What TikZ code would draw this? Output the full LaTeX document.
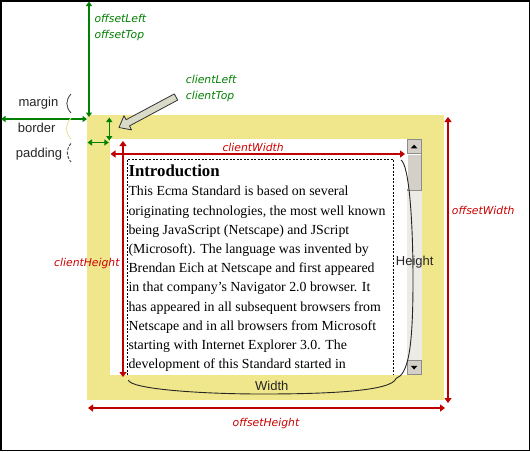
\documentclass[tikz,border=0pt]{standalone}
\usepackage{fontspec}
\setmainfont{Liberation Serif}
\newfontfamily\labfont{Liberation Sans}
\newfontfamily\propfont{DejaVu Sans}
\usetikzlibrary{arrows.meta}
\definecolor{khakiY}{RGB}{240,230,140}
\definecolor{dimred}{RGB}{192,0,0}
\definecolor{txtred}{RGB}{204,0,0}
\definecolor{dimgreen}{RGB}{0,128,0}
\definecolor{sbgray}{RGB}{212,208,200}
\definecolor{sbtrack}{RGB}{236,235,230}
\definecolor{ptrfill}{RGB}{218,218,200}
\definecolor{paleyel}{RGB}{236,226,160}
\begin{document}
\begin{tikzpicture}[x=1pt,y=-1pt,
  redarr/.style={draw=dimred, line width=1.4pt, {Triangle[length=5pt,width=7pt]}-{Triangle[length=5pt,width=7pt]}},
  grnarr/.style={draw=dimgreen, line width=1.2pt, {Triangle[length=4.5pt,width=6pt]}-{Triangle[length=4.5pt,width=6pt]}},
  redlab/.style={font=\propfont\itshape\fontsize{10.8}{12}\selectfont, text=txtred, inner sep=0pt, anchor=base west},
  grnlab/.style={font=\propfont\itshape\fontsize{10.8}{12}\selectfont, text=dimgreen, inner sep=0pt, anchor=base west},
  blklab/.style={font=\labfont\fontsize{13}{15}\selectfont, text=black!85, inner sep=0pt, anchor=base west},
  body/.style={font=\fontsize{13.85}{19}\selectfont, inner sep=0pt, anchor=base west},
  sbbtn/.style={fill=sbgray, draw=black!45, line width=0.6pt},
  brace/.style={draw=black!85, line width=0.9pt}]
\useasboundingbox (0,0) rectangle (530,451);
\fill[white] (0,0) rectangle (530,451);
% border box
\fill[khakiY] (87,115) rectangle (444,400);
\fill[white] (110,139) rectangle (406.5,375);
% scrollbar
\fill[sbtrack] (406.5,139) rectangle (421.7,375);
\draw[sbbtn] (406.8,139.3) rectangle (421.4,153.3);
\fill[black] (410.8,148.3) -- (417.4,148.3) -- (414.1,144.6) -- cycle;
\draw[sbbtn] (406.8,153.8) rectangle (421.4,190);
\draw[white, line width=0.6pt] (407.6,189.2) -- (407.6,154.6) -- (420.6,154.6);
\draw[sbbtn] (406.8,360.5) rectangle (421.4,374.7);
\fill[black] (410.8,365.8) -- (417.4,365.8) -- (414.1,369.5) -- cycle;
% content box
\draw[dash pattern=on 2pt off 1.5pt, line width=0.8pt] (127,375) -- (127,159) -- (393,159) -- (393,375);
\begin{scope}
\clip (110,139) rectangle (406.5,375);
\node[body, font=\bfseries\fontsize{16.8}{19}\selectfont] (intro) at (128.3,176) {Introduction};
\node[body] (l1) at (128.3,195.8) {This Ecma Standard is based on several};
\node[body] (l2) at (128.3,215) {originating technologies, the most well known};
\node[body] (l3) at (128.3,234.2) {being JavaScript (Netscape) and JScript};
\node[body] (l4) at (128.3,253.4) {(Microsoft). The language was invented by};
\node[body] (l5) at (128.3,272.6) {Brendan Eich at Netscape and first appeared};
\node[body] (l6) at (128.3,291.8) {in that company’s Navigator 2.0 browser. It};
\node[body] (l7) at (128.3,311) {has appeared in all subsequent browsers from};
\node[body] (l8) at (128.3,330.2) {Netscape and in all browsers from Microsoft};
\node[body] (l9) at (128.3,349.4) {starting with Internet Explorer 3.0. The};
\node[body] (l10) at (128.3,368.6) {development of this Standard started in};
\end{scope}
% frame
\draw[line width=1.5pt] (0.75,0.75) rectangle (529.25,450.25);
% coordinates for dimension arrows
\coordinate (cwL) at (110.5,154);
\coordinate (cwR) at (405,154);
\coordinate (chT) at (123,141);
\coordinate (chB) at (123,377);
\coordinate (owT) at (448,117);
\coordinate (owB) at (448,403);
\coordinate (ohL) at (88,408);
\coordinate (ohR) at (445,408);
\coordinate (otT) at (89,1.5);
\coordinate (otB) at (89,117);
\coordinate (olL) at (1,119);
\coordinate (olR) at (87,119);
\coordinate (ctT) at (109.3,117.5);
\coordinate (ctB) at (109.3,140.5);
\coordinate (clL) at (87.5,142.5);
\coordinate (clR) at (108.8,142.5);
\draw[redarr] (cwL) -- (cwR);
\draw[redarr] (chT) -- (chB);
\draw[redarr] (owT) -- (owB);
\draw[redarr] (ohL) -- (ohR);
\draw[grnarr] (otT) -- (otB);
\draw[grnarr] (olL) -- (olR);
\draw[grnarr] (ctT) -- (ctB);
\draw[grnarr] (clL) -- (clR);
% labels
\node[redlab] (lcw) at (222.3,151) {clientWidth};
\node[redlab] (lch) at (54,266) {clientHeight};
\node[redlab] (low) at (451.7,214.3) {offsetWidth};
\node[redlab] (loh) at (232.5,426.7) {offsetHeight};
\node[grnlab] (lol) at (94.3,22.6) {offsetLeft};
\node[grnlab] (lot) at (94.3,38.4) {offsetTop};
\node[grnlab] (lcl) at (185.7,83.5) {clientLeft};
\node[grnlab] (lct) at (185.7,99.2) {clientTop};
\node[blklab] (lmargin) at (18.3,106) {margin};
\node[blklab] (lborder) at (17.7,132.3) {border};
\node[blklab] (lpadding) at (15.7,157.3) {padding};
% small parens
\draw[draw=black!70, line width=0.9pt] (71,94) .. controls (65.5,100) and (65.5,107) .. (71,113);
\draw[draw=paleyel, line width=0.9pt] (71,118) .. controls (65,125) and (65,132) .. (71,139);
\draw[draw=black!75, line width=0.9pt, dash pattern=on 3pt off 1.5pt] (71,143.5) .. controls (66,149) and (66,156) .. (71,162);
% pointer arrow clientLeft/clientTop
\draw[fill=ptrfill, draw=black!80, line width=0.8pt, line join=round]
  (174.35,93.9) -- (126.1,119.7) -- (124.0,115.7) -- (119,127.5) -- (131.6,129.9) -- (129.5,125.9) -- (177.65,100.1) -- cycle;
% Height and Width braces
\draw[brace] (401,160) .. controls (409,165) and (413,220) .. (413,280) .. controls (413,350) and (408,374) .. (396,378.5);
\draw[brace] (128.3,380) .. controls (130,389) and (200,394) .. (262,394) .. controls (330,394) and (392,391) .. (396,378.5);
\node[blklab] (lheight) at (395.7,265) {Height};
\node[blklab] (lwidth) at (255,390.7) {Width};
\end{tikzpicture}
\end{document}
